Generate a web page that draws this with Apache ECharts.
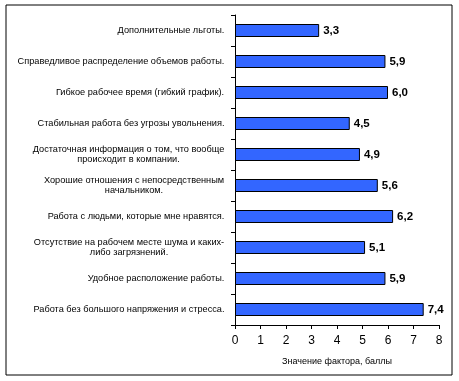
<!DOCTYPE html>
<html><head><meta charset="utf-8">
<script src="https://cdn.jsdelivr.net/npm/echarts@6/dist/echarts.min.js"></script>
<style>html,body{margin:0;padding:0;background:#fff}#c{width:459px;height:381px}</style>
</head><body><div id="c"></div>
<script>
const categories = [
  "Дополнительные льготы.",
  "Справедливое распределение объемов работы.",
  "Гибкое рабочее время (гибкий график).",
  "Стабильная работа без угрозы увольнения.",
  "Достаточная информация о том, что вообще\nпроисходит в компании.",
  "Хорошие отношения с непосредственным\nначальником.",
  "Работа с людьми, которые мне нравятся.",
  "Отсутствие на рабочем месте шума и каких-\nлибо загрязнений.",
  "Удобное расположение работы.",
  "Работа без большого напряжения и стресса."
];
const values = [3.3, 5.9, 6.0, 4.5, 4.9, 5.6, 6.2, 5.1, 5.9, 7.4];
const xTicks = [0, 1, 2, 3, 4, 5, 6, 7, 8];
const axisTitle = "Значение фактора, баллы";

const labelSize = 9.2;
const fam = '"Liberation Sans", Arial, sans-serif';
const ctx = document.createElement('canvas').getContext('2d');
ctx.font = labelSize + 'px ' + fam;
const rich = {};
categories.forEach((c, i) => {
  const lines = c.split('\n');
  const w = Math.max(...lines.map(l => ctx.measureText(l).width));
  rich['c' + i] = { width: Math.ceil(w) + 1, align: 'center', fontSize: labelSize, fontFamily: fam, color: '#000', lineHeight: 10 };
});

const chart = echarts.init(document.getElementById('c'));
chart.setOption({
  animation: false,
  backgroundColor: '#fff',
  graphic: [{ type: 'rect', shape: { x: 6, y: 5, width: 446, height: 370 }, style: { fill: 'none', stroke: '#000', lineWidth: 1 } }],
  grid: { left: 235, right: 20, top: 15, bottom: 56, containLabel: false },
  xAxis: {
    type: 'value', min: 0, max: 8, interval: 1,
    name: axisTitle, nameLocation: 'middle', nameGap: 32,
    nameTextStyle: { fontSize: 9, color: '#000', fontFamily: fam },
    axisLine: { show: true, lineStyle: { color: '#000', width: 1 } },
    axisTick: { show: true, length: 4, lineStyle: { color: '#000' } },
    splitLine: { show: false },
    axisLabel: { color: '#000', fontSize: 12, margin: 10, fontFamily: fam,
      formatter: v => xTicks.includes(v) ? String(v) : '' }
  },
  yAxis: {
    type: 'category', data: categories, inverse: true,
    axisLine: { show: true, lineStyle: { color: '#000', width: 1 } },
    axisTick: { show: true, length: 4, lineStyle: { color: '#000' } },
    axisLabel: {
      margin: 10, align: 'right', interval: 0,
      formatter: (val, idx) => val.split('\n').map(l => '{c' + idx + '|' + l + '}').join('\n'),
      rich: rich
    }
  },
  series: [{
    type: 'bar', data: values, barWidth: 13,
    itemStyle: { color: '#3366FF', borderColor: '#000', borderWidth: 1 },
    label: { show: true, position: 'right', distance: 4, color: '#000', fontWeight: 'bold', fontSize: 11.5,
      fontFamily: fam,
      formatter: p => p.value.toFixed(1).replace('.', ',') }
  }]
});
</script></body></html>
